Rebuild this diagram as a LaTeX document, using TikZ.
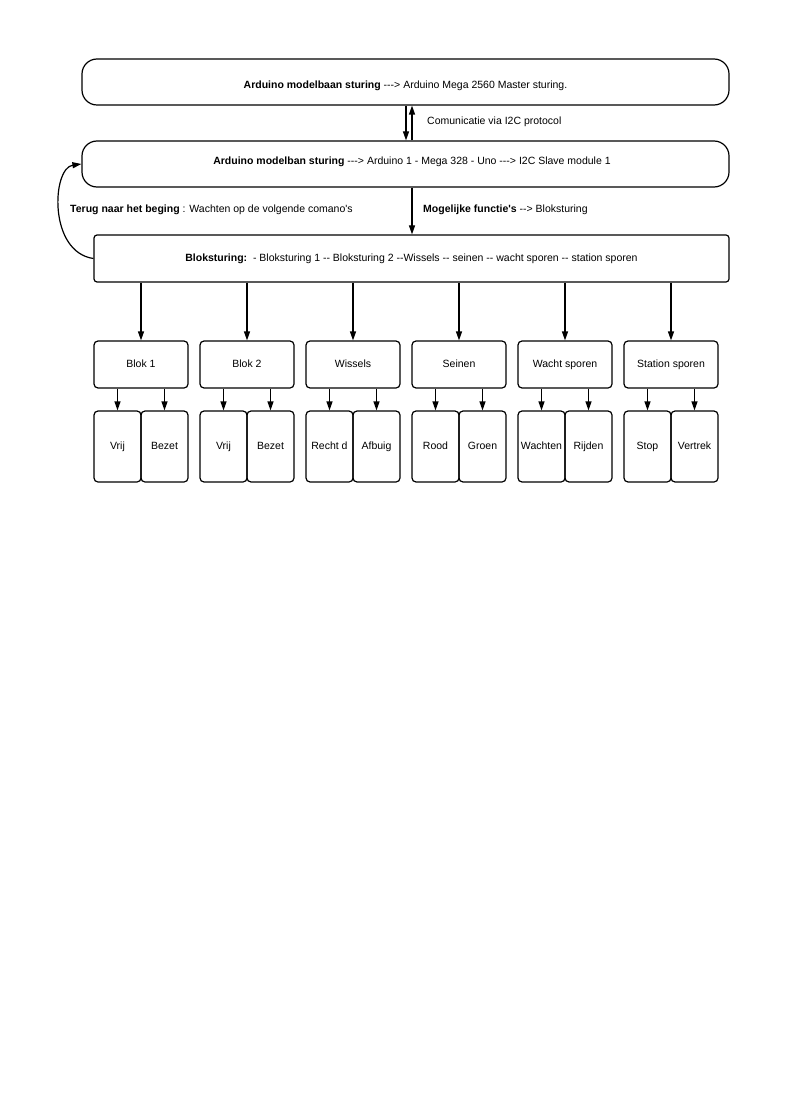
\documentclass[tikz,border=0pt]{standalone}
\usepackage{fontspec}
\setmainfont{Liberation Sans}[Ligatures=TeXOff]
\usetikzlibrary{arrows.meta}
\begin{document}
\begin{tikzpicture}[x=1pt,y=-1pt,
  every node/.style={font=\fontsize{10.5}{12}\selectfont, inner sep=0pt, text height=7.6pt, text depth=2.2pt},
  bigbox/.style={draw, line width=1.2pt, rounded corners=15pt, minimum width=647pt, minimum height=46pt},
  blokbox/.style={draw, line width=1.2pt, rounded corners=3pt, minimum width=635pt, minimum height=47pt},
  childbox/.style={draw, line width=1.2pt, rounded corners=4pt, minimum width=94pt, minimum height=47pt},
  leafbox/.style={draw, line width=1.2pt, rounded corners=4pt, minimum width=47pt, minimum height=71pt},
  arr/.style={-{Triangle[length=9pt,width=6pt]}, line width=1.2pt},
  lbl/.style={anchor=west}]
\useasboundingbox (0,0) rectangle (800,1099);
\node[bigbox] (m) at (405.5,82) {};
\node (mt) at (405.5,86) {\textbf{Arduino modelbaan sturing} ---> Arduino Mega 2560 Master sturing.};
\node[bigbox] (s) at (405.5,164) {};
\node (st) at (412,162) {\textbf{Arduino modelban sturing} ---> Arduino 1 - Mega 328 - Uno ---> I2C Slave module 1};
\node[blokbox] (b) at (411.5,258.5) {\textbf{Bloksturing:}\ \ - Bloksturing 1 -- Bloksturing 2 --Wissels -- seinen -- wacht sporen -- station sporen};
\draw[arr] ([xshift=0.5pt]m.south) -- ([xshift=0.5pt]s.north);
\draw[arr] ([xshift=6.5pt]s.north) -- ([xshift=6.5pt]m.south);
\node[lbl] (lc) at (427,121.5) {Comunicatie via I2C protocol};
\draw[arr] ([xshift=6.5pt]s.south) -- ([xshift=0.5pt]b.north);
\node[lbl] (lf) at (423,210) {\textbf{Mogelijke functie's} --> Bloksturing};
\draw[arr] (b.west) .. controls (48,252) and (52,168) .. (s.west);
\node[lbl] (lt) at (70,210) {\textbf{Terug naar het beging} : Wachten op de volgende comano's};
\foreach \i/\x/\t/\a/\bb in {1/141/Blok 1/Vrij/Bezet, 2/247/Blok 2/Vrij/Bezet, 3/353/Wissels/Recht d/Afbuig, 4/459/Seinen/Rood/Groen, 5/565/Wacht sporen/Wachten/Rijden, 6/671/Station sporen/Stop/Vertrek}{
  \node[childbox] (c\i) at (\x,364.5) {\t};
  \draw[arr] (b.south -| c\i.north) -- (c\i.north);
  \node[leafbox] (g\i a) at (\x-23.5,446.5) {\a};
  \node[leafbox] (g\i b) at (\x+23.5,446.5) {\bb};
  \draw[arr] (c\i.south -| g\i a.north) -- (g\i a.north);
  \draw[arr] (c\i.south -| g\i b.north) -- (g\i b.north);
}
\end{tikzpicture}
\end{document}
